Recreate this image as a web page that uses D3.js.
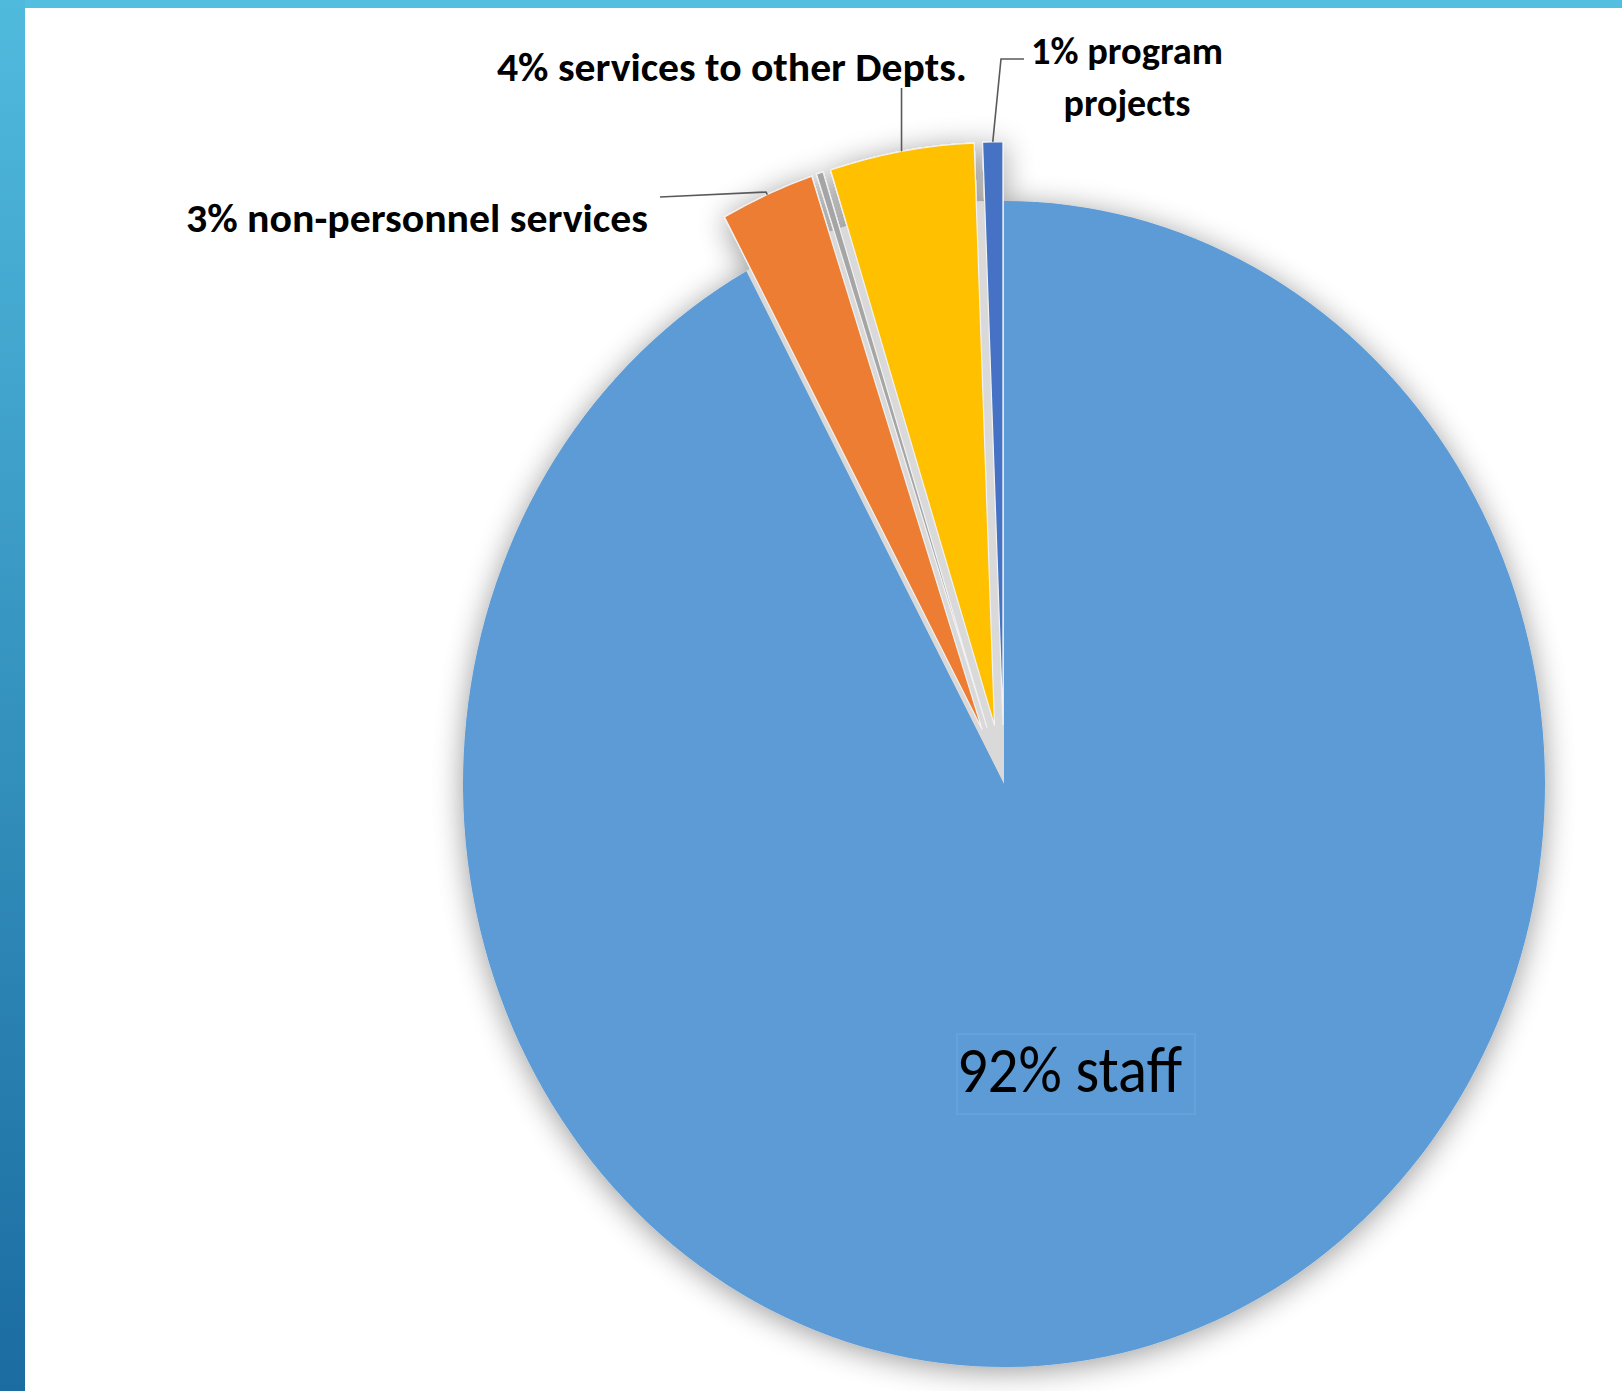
<!DOCTYPE html>
<html>
<head>
<meta charset="utf-8">
<script src="https://cdn.jsdelivr.net/npm/d3@7.9.0/dist/d3.min.js"></script>
<style>
  html, body { margin: 0; padding: 0; background: #fff; overflow: hidden; }
  .label { font-family: Carlito, "Liberation Sans Narrow", "Open Sans", sans-serif; fill: #000; }
</style>
</head>
<body>
<svg id="chart" width="1622" height="1391"></svg>
<script>
// slice order follows the original spreadsheet (clockwise from 12 o'clock)
const categories = ['staff', 'non-personnel services', 'other', 'services to other Depts.', 'program projects'];
const shares = [92.1, 2.8, 0.2, 4.3, 0.6];
const percentLabels = ['92%', '3%', '', '4%', '1%'];

const W = 1622, H = 1391;
const cx = 1004, cy = 784;
const rx = 541, ry = 583;          // the picture is slightly stretched vertically
const ky = ry / rx;
const explode = 55;                // small slices are pulled out

const color = d3.scaleOrdinal()
  .domain(categories)
  .range(['#5B9BD5', '#ED7D31', '#A5A5A5', '#FFC000', '#4472C4']);

const data = categories.map((c, i) => ({ category: c, value: shares[i], pct: percentLabels[i] }));

const svg = d3.select('#chart');
const defs = svg.append('defs');

const grad = defs.append('linearGradient')
  .attr('id', 'sideGrad').attr('x1', 0).attr('y1', 0).attr('x2', 0).attr('y2', 1);
grad.append('stop').attr('offset', '0%').attr('stop-color', '#50BADD');
grad.append('stop').attr('offset', '100%').attr('stop-color', '#1B6CA1');

const shadow = defs.append('filter')
  .attr('id', 'shadow')
  .attr('x', '-20%').attr('y', '-20%').attr('width', '140%').attr('height', '140%');
shadow.append('feGaussianBlur').attr('in', 'SourceAlpha').attr('stdDeviation', 15).attr('result', 'blur');
shadow.append('feOffset').attr('in', 'blur').attr('dy', 4).attr('result', 'off');
shadow.append('feComponentTransfer').attr('in', 'off').attr('result', 'soft')
  .append('feFuncA').attr('type', 'linear').attr('slope', 0.4);
const merge = shadow.append('feMerge');
merge.append('feMergeNode').attr('in', 'soft');
merge.append('feMergeNode').attr('in', 'SourceGraphic');

// frame
svg.append('rect').attr('width', W).attr('height', H).attr('fill', '#fff');
svg.append('rect').attr('x', 0).attr('y', 0).attr('width', W).attr('height', 8).attr('fill', '#54BEE0');
svg.append('rect').attr('x', 0).attr('y', 0).attr('width', 25).attr('height', H).attr('fill', 'url(#sideGrad)');

const pie = d3.pie().sort(null).value(d => d.value);
const arcs = pie(data);
const arc = d3.arc().innerRadius(0).outerRadius(rx);

const offsetOf = (d, i) => {
  const mid = (d.startAngle + d.endAngle) / 2;
  const o = i === 0 ? 0 : explode;
  return [Math.sin(mid) * o, -Math.cos(mid) * o];
};

// point on the outer rim of a slice along its bisector, in page coordinates
const rimPoint = (d, i) => {
  const mid = (d.startAngle + d.endAngle) / 2;
  const r = rx + (i === 0 ? 0 : explode);
  return [cx + Math.sin(mid) * r, cy - Math.cos(mid) * r * ky];
};

const outer = svg.append('g').attr('filter', 'url(#shadow)');
const pieG = outer.append('g').attr('transform', `translate(${cx},${cy}) scale(1,${ky})`);

// grey gap left behind by the pulled-out slices
pieG.append('path')
  .attr('d', d3.arc().innerRadius(0).outerRadius(rx)({ startAngle: arcs[1].startAngle, endAngle: 2 * Math.PI }))
  .attr('fill', '#d9d9d9');

pieG.selectAll('path.slice')
  .data(arcs)
  .join('path')
  .attr('class', 'slice')
  .attr('d', arc)
  .attr('transform', (d, i) => `translate(${offsetOf(d, i)})`)
  .attr('fill', d => color(d.data.category))
  .attr('stroke', (d, i) => i === 0 ? 'none' : '#f2f2f2')
  .attr('stroke-width', 1.2)
  .attr('vector-effect', 'non-scaling-stroke');

// labels and leader lines
const labelLayout = {
  'non-personnel services': { lines: ['3% non-personnel services'], x: 186, y: 232, size: 40, len: [462], anchor: 'start', bend: [[766, 192], [660, 197]] },
  'services to other Depts.': { lines: ['4% services to other Depts.'], x: 497, y: 81, size: 40, len: [470], anchor: 'start', bend: 'up', top: 88 },
  'program projects': { lines: ['1% program', 'projects'], x: 1127, y: 64, size: 39, len: [192, 127], anchor: 'middle', lineGap: 52, bend: [[1001, 59], [1024, 59]] }
};

const line = d3.line();

arcs.forEach((d, i) => {
  const lay = labelLayout[d.data.category];
  if (!lay) return;
  const p = rimPoint(d, i);
  const pts = lay.bend === 'up' ? [p, [p[0], lay.top]] : [p, ...lay.bend];
  svg.append('path')
    .attr('d', line(pts))
    .attr('fill', 'none')
    .attr('stroke', '#5a5a5a')
    .attr('stroke-width', 1.6);

  const t = svg.append('text')
    .attr('class', 'label')
    .attr('font-weight', 'bold')
    .attr('font-size', lay.size)
    .attr('text-anchor', lay.anchor);
  lay.lines.forEach((s, k) => {
    t.append('tspan')
      .attr('x', lay.x)
      .attr('y', lay.y + k * (lay.lineGap || 0))
      .attr('textLength', lay.len[k])
      .attr('lengthAdjust', 'spacingAndGlyphs')
      .text(s);
  });
});

// label inside the big slice
const main = arcs[0];
svg.append('rect')
  .attr('x', 957).attr('y', 1034).attr('width', 238).attr('height', 80)
  .attr('fill', 'none')
  .attr('stroke', '#64a2da')
  .attr('stroke-width', 2);
svg.append('text')
  .attr('class', 'label')
  .attr('x', 957)
  .attr('y', 1092)
  .attr('font-size', 66)
  .attr('textLength', 225)
  .attr('lengthAdjust', 'spacingAndGlyphs')
  .text(`${main.data.pct} ${main.data.category}`);
</script>
</body>
</html>
